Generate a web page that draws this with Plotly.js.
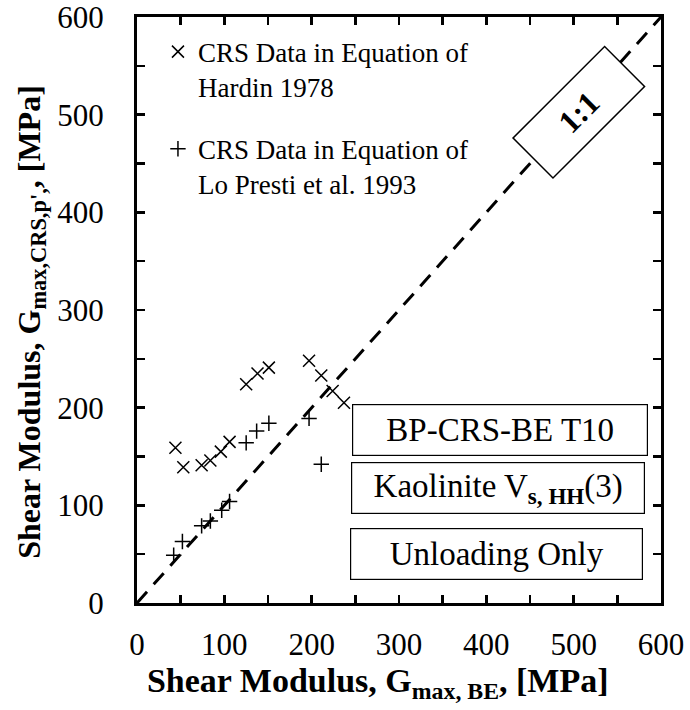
<!DOCTYPE html>
<html>
<head>
<meta charset="utf-8">
<script src="https://cdn.plot.ly/plotly-3.0.1.min.js"></script>
<style>html,body{margin:0;padding:0;background:#fff;}#chart{width:690px;height:710px;}</style>
</head>
<body>
<div id="chart"></div>
<script>
// Data
const hardinX = [44, 53, 74, 84, 96, 106, 125, 138, 151, 197, 211, 224, 237];
const hardinY = [159, 139, 141, 146, 155, 165, 224, 235, 241, 248, 233, 217, 205];
const prestiX = [42, 52, 74, 84, 97, 106, 125, 137, 151, 197, 211];
const prestiY = [49, 63, 79, 84, 95, 104, 164, 176, 184, 189, 142];
const oneToOneX = [0, 600];
const oneToOneY = [0, 600];
const tickVals = [0, 100, 200, 300, 400, 500, 600];
const tickText = ['0', '100', '200', '300', '400', '500', '600'];
const hardinName = 'CRS Data in Equation of<br>Hardin 1978';
const prestiName = 'CRS Data in Equation of<br>Lo Presti et al. 1993';
const boxTexts = ['BP-CRS-BE T10', 'Kaolinite V<sub><b>s, HH</b></sub>(3)', 'Unloading Only'];

const serif = 'Liberation Serif, Times New Roman, serif';

const traces = [
  {
    x: oneToOneX, y: oneToOneY, mode: 'lines', showlegend: false, hoverinfo: 'skip',
    line: {color: 'black', width: 3, dash: '15px,10px'}
  },
  {
    x: hardinX, y: hardinY, mode: 'markers', name: hardinName, legendgroup: 'a',
    marker: {symbol: 'x-thin', size: 12, color: 'black', line: {color: 'black', width: 1.5}}
  },
  {
    x: prestiX, y: prestiY, mode: 'markers', name: prestiName, legendgroup: 'b',
    marker: {symbol: 'cross-thin', size: 11, color: 'black', line: {color: 'black', width: 1.5}}
  }
];

const axisCommon = {
  range: [0, 600], tickmode: 'array', tickvals: tickVals, ticktext: tickText,
  ticks: 'inside', ticklen: 8, tickwidth: 2.5, tickcolor: 'black',
  minor: {dtick: 50, ticks: 'inside', ticklen: 8, tickwidth: 2.5, tickcolor: 'black', showgrid: false},
  showline: true, linewidth: 3, linecolor: 'black', mirror: 'ticks',
  showgrid: false, zeroline: false, ticklabeloverflow: 'allow',
  tickfont: {family: serif, size: 31, color: 'black'}
};

const boxY = [177, 118, 50];
const boxX = [416, 413, 412];
const boxW = [294, 292, 291];
const annotations = boxTexts.map((t, i) => ({
  xref: 'x', yref: 'y', x: boxX[i], y: boxY[i], text: t, showarrow: false,
  font: {family: serif, size: 33, color: 'black'},
  width: boxW[i], height: 50, borderpad: 0, bordercolor: 'black', borderwidth: 1.2,
  bgcolor: 'white', align: 'center', valign: 'middle'
}));
annotations.push({
  xref: 'x', yref: 'y', x: 506, y: 503, text: '<b>1:1</b>', showarrow: false,
  textangle: -45, font: {family: serif, size: 32, color: 'black'},
  width: 128, height: 55, borderpad: 0, bordercolor: 'black', borderwidth: 1.5,
  bgcolor: 'white', align: 'center', valign: 'middle'
});

const layout = {
  width: 690, height: 710,
  margin: {l: 137, r: 29, t: 17, b: 107},
  paper_bgcolor: 'white', plot_bgcolor: 'white',
  font: {family: serif, color: 'black'},
  xaxis: Object.assign({}, axisCommon, {
    ticklabelstandoff: 12,
    title: {text: '<b>Shear Modulus, G<sub>max, BE</sub>, [MPa]</b>&nbsp;&nbsp;&nbsp;&nbsp;&nbsp;', font: {family: serif, size: 34, color: 'black'}, standoff: 4}
  }),
  yaxis: Object.assign({}, axisCommon, {
    ticklabelstandoff: 24,
    title: {text: "<b>Shear Modulus, G<sub>max,CRS,p',</sub>, [MPa]</b>&nbsp;&nbsp;&nbsp;", font: {family: serif, size: 32, color: 'black'}, standoff: 8}
  }),
  showlegend: true,
  legend: {
    x: 0.04, y: 0.982, xanchor: 'left', yanchor: 'top',
    bgcolor: 'rgba(0,0,0,0)', borderwidth: 0,
    font: {family: serif, size: 27, color: 'black'},
    valign: 'top', tracegroupgap: 24, itemwidth: 30
  },
  annotations: annotations
};

Plotly.newPlot('chart', traces, layout, {displayModeBar: false, staticPlot: true});
</script>
</body>
</html>
